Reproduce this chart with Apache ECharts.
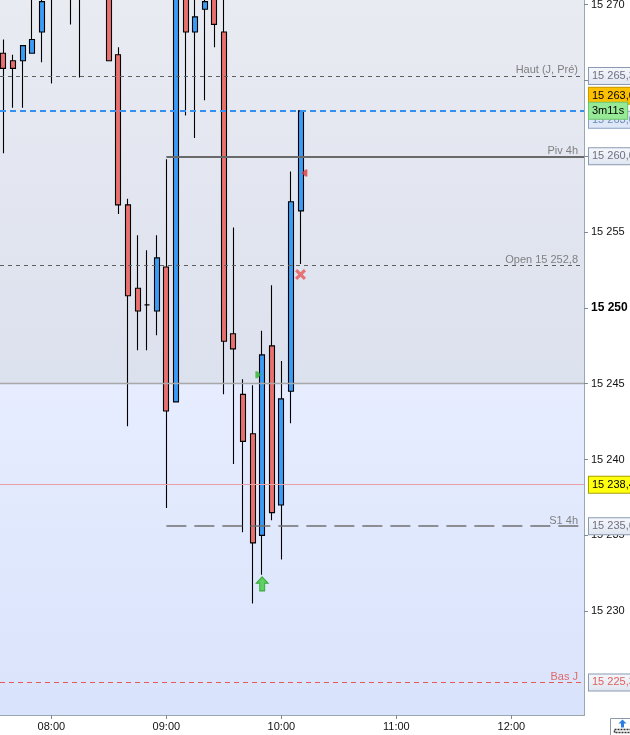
<!DOCTYPE html>
<html><head><meta charset="utf-8">
<script src="https://cdn.jsdelivr.net/npm/echarts@6/dist/echarts.min.js"></script>
<style>html,body{margin:0;padding:0;background:#fff}#c{width:630px;height:735px}</style>
</head><body><div id="c"></div>
<script>
// ---- data (5-minute candles) ----
const times  = ['07:35','07:40','07:45','07:50','07:55','08:00','08:05','08:10','08:15','08:20','08:25','08:30',
                '08:35','08:40','08:45','08:50','08:55','09:00','09:05','09:10','09:15','09:20','09:25','09:30',
                '09:35','09:40','09:45','09:50','09:55','10:00','10:05','10:10'];
const opens  = [15266.8,15266.3,15266.3,15266.8,15268.2,15271.0,15272.5,15274.0,15273.0,15275.0,15276.0,15274.0,
                15266.7,15256.8,15251.3,15250.2,15249.8,15252.7,15243.8,15271.0,15268.2,15269.7,15270.8,15268.2,
                15248.3,15244.3,15241.7,15235.0,15247.5,15237.0,15244.5,15256.4];
const closes = [15265.8,15265.8,15267.3,15267.7,15270.2,15272.5,15274.0,15273.0,15275.0,15276.0,15274.0,15266.3,
                15256.8,15250.8,15249.8,15250.2,15253.3,15243.2,15271.0,15268.2,15269.2,15270.2,15268.7,15247.8,
                15247.3,15241.2,15234.5,15246.9,15236.5,15244.0,15257.0,15263.0];
const lows   = [15260.2,15263.2,15263.2,15266.8,15266.2,15264.8,15271.0,15268.7,15265.2,15273.0,15272.5,15266.3,
                15256.2,15242.2,15247.2,15247.2,15248.2,15236.8,15243.8,15262.7,15261.2,15263.7,15267.2,15244.3,
                15239.7,15235.2,15230.5,15232.4,15236.0,15233.4,15242.4,15252.9];
const highs  = [15267.7,15266.7,15267.3,15271.0,15271.2,15273.5,15275.0,15276.0,15276.0,15277.0,15277.0,15275.0,
                15267.2,15257.2,15254.8,15253.8,15254.8,15259.8,15271.5,15271.5,15271.0,15270.8,15271.0,15271.0,
                15255.3,15245.3,15244.9,15248.5,15251.5,15246.5,15259.0,15263.0];

const xTickLabels = ['08:00','09:00','10:00','11:00','12:00'];
const yTickValues = [15230,15235,15240,15245,15250,15255,15260,15265,15270];

const levelNames  = ['Haut (J, Pré)','Piv 4h','Open 15 252,8','S1 4h','Bas J'];
const levelValues = [15265.3,15260.0,15252.8,15235.6,15225.3];
const levelStarts = [null,'09:00',null,'09:00',null];
const lastPrice   = 15263.0;
const timerText   = '3m11s';
const orderPrice  = 15238.4;
const zoneLevel   = 15245.0;

const sellCross   = [['10:10',15252.2]];
const redFlag     = [['10:12',15258.9]];
const greenFlag   = [['09:48',15245.6]];
const buyArrow    = [['09:50',15231.8]];

// ---- view window ----
const TMIN = 453.2, TMAX = 757.9, YMIN = 15223.15, YMAX = 15270.31;

function toMin(t){ const p=t.split(':'); return (+p[0])*60+(+p[1]); }
function pad(n){ return (n<10?'0':'')+n; }
function fmtInt(v){ const s=String(Math.round(v)); return s.slice(0,s.length-3)+' '+s.slice(-3); }
function fmt1(v){ const s=v.toFixed(1).split('.'); const i=s[0]; return i.slice(0,i.length-3)+' '+i.slice(-3)+','+s[1]; }

const FONT = 'Liberation Sans, Arial, sans-serif';
const AXIS_COLOR = '#7a8a98';

const candleData = times.map((t,i)=>[toMin(t), opens[i], closes[i], lows[i], highs[i]]);

// level lines
const levelStyles = [
  {color:'#606060', width:1.2, type:[4,4]},
  {color:'#6a6a6a', width:2,   type:'solid'},
  {color:'#606060', width:1.2, type:[4,4]},
  {color:'#707070', width:1.5, type:[20,8]},
  {color:'#e85a5a', width:1.2, type:[5,4]}
];
const markLines = [];
levelValues.forEach((v,i)=>{
  const lab = {show:true, position:'insideEndTop', formatter:levelNames[i], distance:[6,0],
               color: i===4 ? '#e06a6a' : '#808080', fontSize:11, fontFamily:FONT};
  if (levelStarts[i]) {
    markLines.push([{coord:[toMin(levelStarts[i]), v], lineStyle:levelStyles[i], label:lab},
                    {coord:[TMAX, v]}]);
  } else {
    markLines.push({yAxis:v, lineStyle:levelStyles[i], label:lab});
  }
});
markLines.push({yAxis:lastPrice, lineStyle:{color:'#3390f0', width:2, type:[6,4]}, label:{show:false}});
markLines.push({yAxis:zoneLevel, lineStyle:{color:'#a8a8a8', width:1.3, type:'solid'}, label:{show:false}});
markLines.push({yAxis:orderPrice, lineStyle:{color:'#e8a0a8', width:1.2, type:'solid'}, label:{show:false}});

// right-side price boxes
function box(v, text, bg, border, color, dy){
  return {coord:[TMAX-0.01, v], symbol:'rect', symbolSize:0,
    label:{show:true, position:'right', distance:5, offset:[0,dy], formatter:text,
      backgroundColor:bg, borderColor:border, borderWidth:1, padding:[2,12,1,3],
      color:color, fontSize:11, lineHeight:13, fontFamily:FONT}};
}
const levelBg = new echarts.graphic.LinearGradient(0,0,0,1,[{offset:0,color:'#f6f8fc'},{offset:1,color:'#dfe5f0'}]);
const boxes = [
  box(levelValues[0], fmt1(levelValues[0]), levelBg, '#8a9ab0', '#707080', 0),
  box(levelValues[1], fmt1(levelValues[1]), levelBg, '#8a9ab0', '#707080', 0),
  box(levelValues[3], fmt1(levelValues[3]), levelBg, '#8a9ab0', '#707080', 0),
  box(levelValues[4], fmt1(levelValues[4]), levelBg, '#8a9ab0', '#e06060', 0),
  box(lastPrice, fmt1(lastPrice), '#dfe8f8', '#8aa0c0', '#6a8ab8', 9),
  box(lastPrice, fmt1(lastPrice), '#fcc000', '#c89a00', '#000', -15),
  box(orderPrice, fmt1(orderPrice), '#ffff10', '#a8a000', '#000', 1),
  box(lastPrice, timerText, '#96ea96', '#6cc46c', '#000', 0)
];
boxes[7].label.padding = [2,3,1,3];

const gradTop = new echarts.graphic.LinearGradient(0,0,0,1,[{offset:0,color:'#e9ebf2'},{offset:1,color:'#dce1ee'}]);
const gradBot = new echarts.graphic.LinearGradient(0,0,0,1,[{offset:0,color:'#e7edff'},{offset:1,color:'#d9e3fb'}]);

function pts(arr){ return arr.map(p=>[toMin(p[0]), p[1]]); }

const chart = echarts.init(document.getElementById('c'), null, {renderer:'canvas'});
chart.setOption({
  animation:false,
  backgroundColor:'#ffffff',
  grid:{left:0, right:46, top:0, bottom:20, containLabel:false, outerBoundsMode:'none'},
  xAxis:{
    type:'value', min:TMIN, max:TMAX,
    axisLine:{show:true, onZero:false, lineStyle:{color:AXIS_COLOR, width:1.5}},
    axisTick:{show:true, length:4, lineStyle:{color:AXIS_COLOR}, customValues:xTickLabels.map(toMin)},
    axisLabel:{show:true, margin:6, color:'#111', fontSize:11, fontFamily:FONT,
      customValues:xTickLabels.map(toMin),
      formatter:v=>pad(Math.floor(v/60))+':'+pad(Math.round(v%60))},
    splitLine:{show:false}
  },
  yAxis:{
    type:'value', position:'right', min:YMIN, max:YMAX, scale:true,
    axisLine:{show:true, onZero:false, lineStyle:{color:AXIS_COLOR, width:1.5}},
    axisTick:{show:true, length:4, lineStyle:{color:AXIS_COLOR}, customValues:yTickValues},
    axisLabel:{show:true, margin:7, color:'#111', fontSize:11, fontFamily:FONT,
      customValues:yTickValues,
      formatter:v=> Math.round(v)===15250 ? '{b|'+fmtInt(v)+'}' : fmtInt(v),
      rich:{b:{fontWeight:'bold', fontSize:12, color:'#000', fontFamily:FONT}}},
    splitLine:{show:false}
  },
  series:[
    {
      type:'line', data:[], z:0, silent:true,
      markArea:{silent:true, data:[
        [{yAxis:YMAX, itemStyle:{color:gradTop}}, {yAxis:zoneLevel}],
        [{yAxis:zoneLevel, itemStyle:{color:gradBot}}, {yAxis:YMIN}]
      ]}
    },
    {
      type:'candlestick', data:candleData, z:2, barWidth:5.5, clip:true,
      itemStyle:{color:'#3b9cf6', color0:'#e8706e', borderColor:'#000', borderColor0:'#000',
                 borderColorDoji:'#000', borderWidth:1.1},
      markLine:{silent:true, symbol:['none','none'], animation:false, data:markLines}
    },
    {
      type:'line', data:[], z:5, silent:true,
      markPoint:{silent:true, data:boxes}
    },
    {type:'scatter', z:4, data:pts(sellCross), symbol:'path://M0,2 L2,0 L5,3 L8,0 L10,2 L7,5 L10,8 L8,10 L5,7 L2,10 L0,8 L3,5 Z',
     symbolSize:11, itemStyle:{color:'#e85555'}},
    {type:'scatter', z:4, data:pts(redFlag), symbol:'path://M0,3.5 L4,0 L6,0 L6,7 L4,7 Z',
     symbolSize:[6,7], itemStyle:{color:'#dd3a3a'}},
    {type:'scatter', z:4, data:pts(greenFlag), symbol:'path://M0,0 L2,0 L6,3.5 L2,7 L0,7 Z',
     symbolSize:[6,7], itemStyle:{color:'#2db52d'}},
    {type:'scatter', z:4, data:pts(buyArrow), symbol:'path://M6,0 L12,6 L8.5,6 L8.5,13 L3.5,13 L3.5,6 L0,6 Z',
     symbolSize:[12,14], itemStyle:{color:'#3ccc3c', borderColor:'#1f9a1f', borderWidth:1}}
  ],
  graphic:[{
    type:'group', left:610, top:718, silent:true,
    children:[
      {type:'rect', shape:{x:0,y:0,width:24,height:18}, style:{fill:'#ffffff', stroke:'#8a9aaa', lineWidth:1}},
      {type:'polygon', shape:{points:[[8,5],[12,1],[16,5],[13.5,5],[13.5,9],[10.5,9],[10.5,5]]}, style:{fill:'#2a7de1'}},
      {type:'rect', shape:{x:4,y:11,width:18,height:3}, style:{fill:'none', stroke:'#333', lineWidth:1.5, lineDash:[2,1]}}
    ]
  }]
});
</script>
</body></html>
